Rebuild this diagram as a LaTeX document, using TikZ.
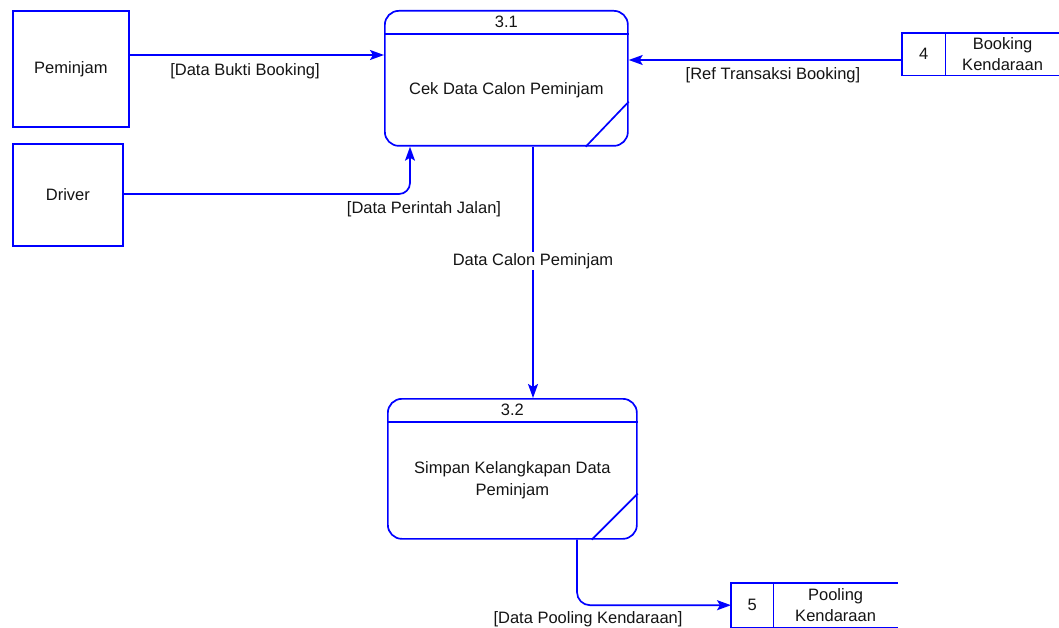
\documentclass[tikz,border=0pt]{standalone}
\usepackage{fontspec}
\setmainfont{Liberation Sans}
\usetikzlibrary{arrows.meta}
\definecolor{flow}{RGB}{0,0,255}
\definecolor{ink}{RGB}{20,20,20}
\begin{document}
\begin{tikzpicture}[x=1pt,y=-1pt,
  every node/.style={font=\fontsize{16.5}{21.5}\selectfont, text=ink},
  entity/.style={draw=flow, line width=1.7pt, fill=white, anchor=north west, inner sep=0pt},
  proc/.style={draw=flow, line width=1.7pt, rounded corners=14pt, anchor=north west, inner sep=0pt},
  deco/.style={draw=flow, line width=1.7pt},
  flowline/.style={draw=flow, line width=1.7pt, -{Stealth[length=14pt,width=10pt,inset=3pt]}},
  lbl/.style={inner sep=1pt, align=center}]
\useasboundingbox (0,0) rectangle (1059,628);

% external entities
\node[entity, minimum width=116pt, minimum height=116pt] (pem) at (12,10) {};
\node at (pem.center) {Peminjam};
\node[entity, minimum width=110pt, minimum height=102pt] (drv) at (12,143) {};
\node at (drv.center) {Driver};

% process 3.1
\node[proc, minimum width=243pt, minimum height=135pt] (p1) at (384,10) {};
\draw[deco] ([yshift=-24pt]p1.north west) -- ([yshift=-24pt]p1.north east);
\draw[deco] ([xshift=-43pt]p1.south east) -- ([yshift=45pt]p1.south east);
\node at ([yshift=-12pt]p1.north) {3.1};
\node at ([yshift=-80pt]p1.north) {Cek Data Calon Peminjam};

% process 3.2
\node[proc, minimum width=249pt, minimum height=140pt] (p2) at (387,398) {};
\draw[deco] ([yshift=-24pt]p2.north west) -- ([yshift=-24pt]p2.north east);
\draw[deco] ([xshift=-46pt]p2.south east) -- ([yshift=46pt]p2.south east);
\node at ([yshift=-12pt]p2.north) {3.2};
\node[align=center] at ([yshift=-82pt]p2.north) {Simpan Kelangkapan Data\\Peminjam};

% data store 4
\coordinate (s4tl) at (902,33);
\node[inner sep=0pt, minimum width=43pt, minimum height=42pt, anchor=north west] (s4) at (s4tl) {4};
\node[inner sep=0pt, minimum width=114pt, minimum height=42pt, anchor=north west, align=center] (s4n) at (s4.north east) {Booking\\Kendaraan};
\draw[deco] (s4n.north east) -- (s4.north west) -- (s4.south west) -- (s4n.south east);
\draw[deco] (s4.north east) -- (s4.south east);

% data store 5
\coordinate (s5tl) at (731,583);
\node[inner sep=0pt, minimum width=42pt, minimum height=44pt, anchor=north west] (s5) at (s5tl) {5};
\node[inner sep=0pt, minimum width=124pt, minimum height=44pt, anchor=north west, align=center] (s5n) at (s5.north east) {Pooling\\Kendaraan};
\draw[deco] (s5n.north east) -- (s5.north west) -- (s5.south west) -- (s5n.south east);
\draw[deco] (s5.north east) -- (s5.south east);

% data flows
\draw[flowline] (pem.east |- 0,55) -- (p1.west |- 0,55);
\node[lbl] at (245,71) {[Data Bukti Booking]};

\draw[flowline] (s4.west |- 0,60) -- (p1.east |- 0,60);
\node[lbl] at (773,75) {[Ref Transaksi Booking]};

\draw[flowline, rounded corners=11pt] (drv.east |- 0,194) -| ([xshift=26pt]p1.south west);
\node[lbl] at (424,209) {[Data Perintah Jalan]};

\draw[flowline] (p1.south -| 533,0) -- (p2.north -| 533,0);
\node[lbl, fill=white] at (533,261) {Data Calon Peminjam};

\draw[flowline, rounded corners=13pt] ([xshift=190pt]p2.south west) |- (s5.west);
\node[lbl] at (588,619) {[Data Pooling Kendaraan]};
\end{tikzpicture}
\end{document}
